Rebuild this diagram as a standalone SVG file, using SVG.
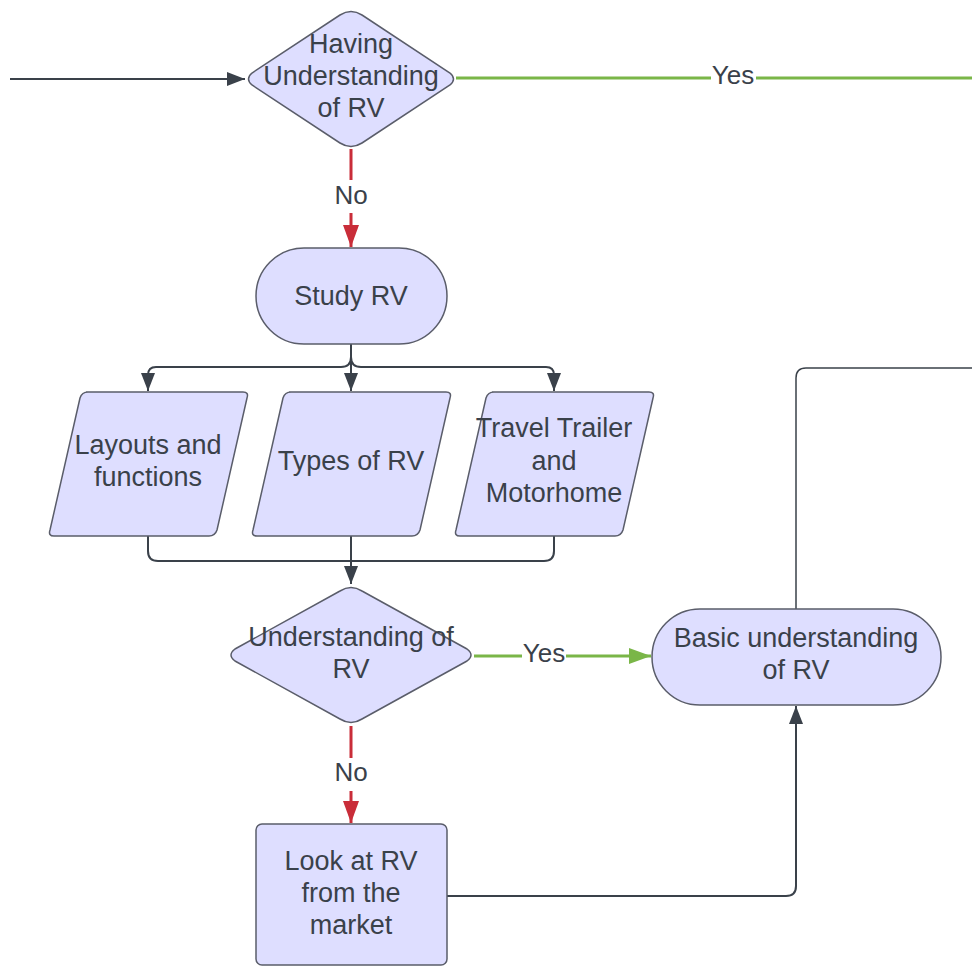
<svg xmlns="http://www.w3.org/2000/svg" width="972" height="966" viewBox="0 0 972 966">
  <style>
    .shape { fill: #dedeff; stroke: #5a5d6a; stroke-width: 1.5; }
    .label { font-family: "Liberation Sans", Arial, sans-serif; font-size: 27px; fill: #3a414a; text-anchor: middle; }
    .edge { fill: none; stroke: #3a414a; stroke-width: 2; }
    .thin { fill: none; stroke: #3a414a; stroke-width: 1.5; }
    .yes { fill: none; stroke: #7ab648; stroke-width: 3; }
    .no { fill: none; stroke: #c92d39; stroke-width: 3; }
    .tag { font-family: "Liberation Sans", Arial, sans-serif; font-size: 26px; fill: #3a414a; text-anchor: middle; }
  </style>
  <defs>
    <marker id="arrowDark" markerUnits="userSpaceOnUse" markerWidth="20" markerHeight="16" refX="18" refY="7" orient="auto">
      <path d="M0,0 L18,7 L0,14 z" fill="#3a414a"/>
    </marker>
    <marker id="arrowGreen" markerUnits="userSpaceOnUse" markerWidth="24" markerHeight="18" refX="22" refY="8" orient="auto">
      <path d="M0,0 L22,8 L0,16 z" fill="#7ab648"/>
    </marker>
    <marker id="arrowRed" markerUnits="userSpaceOnUse" markerWidth="24" markerHeight="18" refX="22" refY="8" orient="auto">
      <path d="M0,0 L22,8 L0,16 z" fill="#c92d39"/>
    </marker>
  </defs>

  <!-- connectors -->
  <g id="connectors">
    <path class="edge" d="M10,79 H245" marker-end="url(#arrowDark)"/>
    <path class="yes" d="M456,78 H711 M756,78 H972"/>
    <text class="tag" x="733" y="84">Yes</text>
    <path class="no" d="M351,149 V180 M351,213 V247" marker-end="url(#arrowRed)"/>
    <text class="tag" x="351" y="204">No</text>

    <!-- fan-out from Study RV -->
    <path class="edge" d="M351,344 V391" marker-end="url(#arrowDark)"/>
    <path class="edge" d="M351,344 V357 Q351,367 341,367 H156 Q148,367 148,375 V391" marker-end="url(#arrowDark)"/>
    <path class="edge" d="M351,344 V357 Q351,367 361,367 H546 Q554,367 554,375 V391" marker-end="url(#arrowDark)"/>

    <!-- merge into second decision -->
    <path class="edge" d="M148,536 V551 Q148,561 158,561 H544 Q554,561 554,551 V536"/>
    <path class="edge" d="M351,536 V584" marker-end="url(#arrowDark)"/>

    <path class="yes" d="M474,656 H522 M566,656 H651" marker-end="url(#arrowGreen)"/>
    <text class="tag" x="544" y="662">Yes</text>
    <path class="no" d="M351,726 V758 M351,791 V823" marker-end="url(#arrowRed)"/>
    <text class="tag" x="351" y="781">No</text>

    <path class="edge" d="M447,896 H786 Q796,896 796,886 V706" marker-end="url(#arrowDark)"/>
    <path class="thin" d="M796,609 V378 Q796,368 806,368 H972"/>
  </g>

  <!-- nodes -->
  <g id="decision-having">
    <path class="shape" d="M340,15 Q351,8 362,15 L450,73 Q457,79 450,85 L362,143 Q351,150 340,143 L252,85 Q245,79 252,73 Z"/>
    <text class="label" x="351" y="53">Having</text>
    <text class="label" x="351" y="85">Understanding</text>
    <text class="label" x="351" y="117">of RV</text>
  </g>

  <g id="study-rv">
    <rect class="shape" x="256" y="248" width="191" height="96" rx="48" ry="48"/>
    <text class="label" x="351" y="305">Study RV</text>
  </g>

  <g id="layouts">
    <path class="shape" d="M86,392 H243 Q249,392 247,398 L217,530 Q215,536 209,536 H54 Q48,536 50,530 L80,398 Q82,392 88,392 Z"/>
    <text class="label" x="148" y="454">Layouts and</text>
    <text class="label" x="148" y="486">functions</text>
  </g>

  <g id="types">
    <path class="shape" d="M289,392 H446 Q452,392 450,398 L420,530 Q418,536 412,536 H257 Q251,536 253,530 L283,398 Q285,392 291,392 Z"/>
    <text class="label" x="351" y="470">Types of RV</text>
  </g>

  <g id="trailer">
    <path class="shape" d="M492,392 H649 Q655,392 653,398 L623,530 Q621,536 615,536 H460 Q454,536 456,530 L486,398 Q488,392 494,392 Z"/>
    <text class="label" x="554" y="437">Travel Trailer</text>
    <text class="label" x="554" y="470">and</text>
    <text class="label" x="554" y="502">Motorhome</text>
  </g>

  <g id="decision-understanding">
    <path class="shape" d="M340,591 Q351,584 362,591 L467,649 Q475,655 467,661 L362,719 Q351,726 340,719 L235,661 Q227,655 235,649 Z"/>
    <text class="label" x="351" y="646">Understanding of</text>
    <text class="label" x="351" y="678">RV</text>
  </g>

  <g id="basic-understanding">
    <rect class="shape" x="652" y="609" width="289" height="96" rx="48" ry="48"/>
    <text class="label" x="796" y="647">Basic understanding</text>
    <text class="label" x="796" y="679">of RV</text>
  </g>

  <g id="look-at-market">
    <rect class="shape" x="256" y="824" width="191" height="141" rx="6" ry="6"/>
    <text class="label" x="351" y="870">Look at RV</text>
    <text class="label" x="351" y="902">from the</text>
    <text class="label" x="351" y="934">market</text>
  </g>
</svg>
